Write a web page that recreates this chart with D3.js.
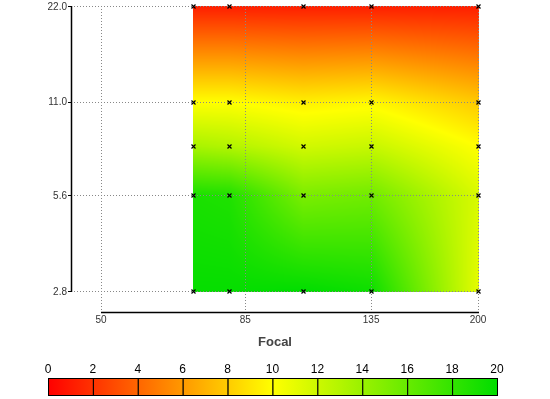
<!DOCTYPE html>
<html><head><meta charset="utf-8">
<script src="https://cdnjs.cloudflare.com/ajax/libs/d3/7.8.5/d3.min.js"></script>
<style>
html,body{margin:0;padding:0;background:#fff;}
#wrap{position:relative;width:550px;height:399px;}
canvas,svg{position:absolute;left:0;top:0;}
</style></head>
<body><div id="wrap"><canvas id="cv" width="550" height="399"></canvas><svg id="sv" width="550" height="399"></svg></div>
<script>
// Data
const focal = [70, 80, 105, 135, 200];
const aperture = [2.8, 5.6, 8, 11, 22];
// values[row aperture][col focal]
const values = [
  [19.8, 19.8, 20.0, 19.5, 11.0],  // f/2.8
  [19.0, 18.8, 15.2, 15.6, 11.5],  // f/5.6
  [13.4, 13.0, 11.8, 12.2, 10.0],  // f/8
  [10.0, 10.0, 9.4, 9.7, 7.9],     // f/11
  [1.2, 1.2, 1.2, 1.2, 1.2]        // f/22
];
const xTicks = [50, 85, 135, 200];
const yTicks = [2.8, 5.6, 11.0, 22.0];
const yTickLabels = ["2.8", "5.6", "11.0", "22.0"];
const legendTicks = [0, 2, 4, 6, 8, 10, 12, 14, 16, 18, 20];
const xTitle = "Focal";

const x = d3.scaleLog().domain([50, 200]).range([101, 478]);
const y = d3.scaleLog().domain([2.8, 22]).range([291, 6]);
const color = d3.scaleLinear().domain([0, 10, 20]).range(["#ff0000", "#ffff00", "#00dd00"]).clamp(true);
const lx = d3.scaleLinear().domain([0, 20]).range([48, 497]);

// interpolation helpers
function locate(arr, v) {
  let i = 0;
  while (i < arr.length - 2 && v > arr[i + 1]) i++;
  let t = (Math.log(v) - Math.log(arr[i])) / (Math.log(arr[i + 1]) - Math.log(arr[i]));
  t = Math.max(0, Math.min(1, t));
  return [i, t];
}
function valueAt(f, a) {
  const [i, tx] = locate(focal, f);
  const [j, ty] = locate(aperture, a);
  const v00 = values[j][i], v01 = values[j][i + 1], v10 = values[j + 1][i], v11 = values[j + 1][i + 1];
  return (v00 * (1 - tx) + v01 * tx) * (1 - ty) + (v10 * (1 - tx) + v11 * tx) * ty;
}

// heatmap on canvas
const cv = document.getElementById("cv");
const ctx = cv.getContext("2d");
const x0 = Math.round(x(focal[0])), x1 = Math.round(x(focal[focal.length - 1]));
const y0 = Math.round(y(aperture[aperture.length - 1])), y1 = Math.round(y(aperture[0]));
const img = ctx.createImageData(x1 - x0 + 1, y1 - y0 + 1);
for (let py = y0; py <= y1; py++) {
  const a = y.invert(py);
  for (let px = x0; px <= x1; px++) {
    const f = x.invert(px);
    const c = d3.rgb(color(valueAt(f, a)));
    const k = ((py - y0) * (x1 - x0 + 1) + (px - x0)) * 4;
    img.data[k] = c.r; img.data[k + 1] = c.g; img.data[k + 2] = c.b; img.data[k + 3] = 255;
  }
}
ctx.putImageData(img, x0, y0);

const svg = d3.select("#sv");
const font = "'Liberation Sans', Arial, sans-serif";
const axisLeftX = 71;
const axisBottomY = 312;

// grid lines
svg.append("g").selectAll("line").data(yTicks).join("line")
  .attr("x1", axisLeftX).attr("x2", x(200)).attr("y1", d => Math.round(y(d)) + 0.5).attr("y2", d => Math.round(y(d)) + 0.5)
  .attr("stroke", "#888").attr("stroke-dasharray", "1,2");
svg.append("g").selectAll("line").data(xTicks).join("line")
  .attr("x1", d => Math.round(x(d)) + 0.5).attr("x2", d => Math.round(x(d)) + 0.5).attr("y1", y(22)).attr("y2", axisBottomY)
  .attr("stroke", "#888").attr("stroke-dasharray", "1,2");

// y axis
svg.append("line").attr("x1", axisLeftX + 0.5).attr("x2", axisLeftX + 0.5).attr("y1", y(22)).attr("y2", y(2.8) + 1)
  .attr("stroke", "#000").attr("stroke-width", 1.5);
svg.append("g").selectAll("line").data(yTicks).join("line")
  .attr("x1", axisLeftX - 3).attr("x2", axisLeftX).attr("y1", d => Math.round(y(d)) + 0.5).attr("y2", d => Math.round(y(d)) + 0.5)
  .attr("stroke", "#000");
svg.append("g").selectAll("text").data(yTicks).join("text")
  .attr("x", axisLeftX - 4).attr("y", d => y(d) + 3.5).attr("text-anchor", "end")
  .attr("font-family", font).attr("font-size", 10).attr("fill", "#333")
  .text((d, i) => yTickLabels[i]);

// x axis
svg.append("line").attr("x1", x(50)).attr("x2", x(200) + 1).attr("y1", axisBottomY + 0.5).attr("y2", axisBottomY + 0.5)
  .attr("stroke", "#000").attr("stroke-width", 1.5);
svg.append("g").selectAll("text").data(xTicks).join("text")
  .attr("x", d => x(d)).attr("y", axisBottomY + 11).attr("text-anchor", "middle")
  .attr("font-family", font).attr("font-size", 10).attr("fill", "#333")
  .text(d => d);
svg.append("text").attr("x", 275).attr("y", 346).attr("text-anchor", "middle")
  .attr("font-family", font).attr("font-size", 13).attr("font-weight", "bold").attr("fill", "#444")
  .text(xTitle);

// markers
const pts = [];
aperture.forEach((a, j) => focal.forEach((f, i) => pts.push([f, a])));
const m = svg.append("g");
pts.forEach(p => {
  const cx = Math.round(x(p[0])) + 0.5, cy = Math.round(y(p[1])) + 0.5;
  m.append("path").attr("d", `M${cx - 2},${cy - 2}L${cx + 2},${cy + 2}M${cx - 2},${cy + 2}L${cx + 2},${cy - 2}`)
    .attr("stroke", "#000").attr("stroke-width", 1.2);
});

// legend colorbar
const defs = svg.append("defs");
const segs = d3.pairs(legendTicks);
segs.forEach((s, i) => {
  const g = defs.append("linearGradient").attr("id", "lg" + i).attr("x1", "0%").attr("x2", "100%");
  g.append("stop").attr("offset", "0%").attr("stop-color", color(s[0]));
  g.append("stop").attr("offset", "50%").attr("stop-color", color((s[0] + s[1]) / 2));
  g.append("stop").attr("offset", "100%").attr("stop-color", color(s[1]));
});
svg.append("g").selectAll("rect").data(segs).join("rect")
  .attr("x", d => lx(d[0]) + 0.5).attr("y", 378.5).attr("width", d => lx(d[1]) - lx(d[0])).attr("height", 17)
  .attr("fill", (d, i) => `url(#lg${i})`).attr("stroke", "#000").attr("stroke-width", 1);
svg.append("g").selectAll("text").data(legendTicks).join("text")
  .attr("x", d => lx(d)).attr("y", 373).attr("text-anchor", "middle")
  .attr("font-family", font).attr("font-size", 12).attr("fill", "#000")
  .text(d => d);
</script></body></html>
